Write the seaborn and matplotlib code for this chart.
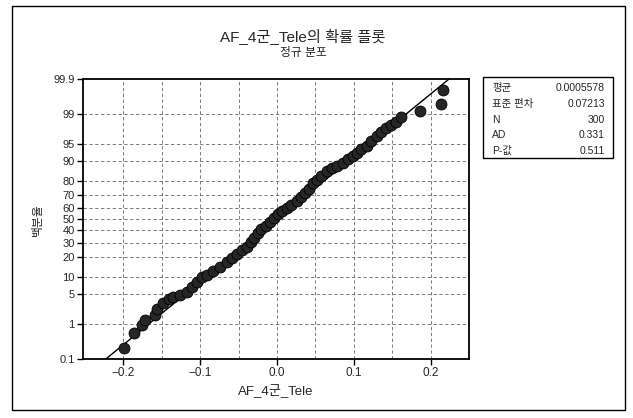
import numpy as np
import matplotlib
matplotlib.use('Agg')
import matplotlib.pyplot as plt
import matplotlib.patches as patches
import seaborn as sns
from statistics import NormalDist

# sorted sample values, with their plotted percentiles
sample_values = [
    -0.1983, -0.1853, -0.1749, -0.1714, -0.1584, -0.1555, -0.1477, -0.1399,
    -0.1347, -0.1260, -0.1173, -0.1108, -0.1043, -0.0978, -0.0913, -0.0827,
    -0.0740, -0.0653, -0.0584, -0.0519, -0.0455, -0.0390, -0.0338, -0.0299,
    -0.0253, -0.0208, -0.0149, -0.0091, -0.0039, 0.0013, 0.0065, 0.0126,
    0.0188, 0.0256, 0.0312, 0.0364, 0.0416, 0.0471, 0.0519, 0.0578,
    0.0645, 0.0708, 0.0779, 0.0861, 0.0922, 0.0981, 0.1035, 0.1097,
    0.1165, 0.1227, 0.1295, 0.1351, 0.1416, 0.1481, 0.1545, 0.1617,
    0.1857, 0.2130, 0.2152,
]
sample_percents = [
    0.228, 0.597, 0.946, 1.26, 1.67, 2.30, 3.19, 3.80,
    4.25, 4.58, 5.35, 6.65, 8.20, 9.99, 10.90, 12.63,
    14.41, 17.21, 19.55, 21.74, 24.42, 26.90, 30.26, 33.80,
    37.49, 40.87, 43.88, 47.09, 50.88, 54.38, 57.42, 59.99,
    62.51, 65.62, 68.97, 72.00, 74.89, 78.58, 80.76, 82.79,
    85.45, 86.90, 88.04, 89.38, 90.66, 91.88, 92.88, 93.82,
    94.65, 95.79, 96.65, 97.28, 97.73, 98.06, 98.38, 98.77,
    99.14, 99.43, 99.78,
]

mean_val = 0.0005578
std_val = 0.07213
line_percents = [0.1, 99.9]

x_ticks = [-0.2, -0.1, 0.0, 0.1, 0.2]
x_tick_labels = ['\u22120.2', '\u22120.1', '0.0', '0.1', '0.2']
x_grid = [-0.2, -0.15, -0.1, -0.05, 0.0, 0.05, 0.1, 0.15, 0.2]
pct_ticks = [0.1, 1, 5, 10, 20, 30, 40, 50, 60, 70, 80, 90, 95, 99, 99.9]
pct_labels = ['0.1', '1', '5', '10', '20', '30', '40', '50', '60', '70',
              '80', '90', '95', '99', '99.9']
pct_grid = [1, 5, 10, 20, 30, 40, 50, 60, 70, 80, 90, 95, 99]

stat_names = ['평균', '표준 편차', 'N', 'AD', 'P-값']
stat_values = ['0.0005578', '0.07213', '300', '0.331', '0.511']

title = 'AF_4군_Tele의 확률 플롯'
subtitle = '정규 분포'
x_label = 'AF_4군_Tele'
y_label = '백분율'

sns.set_style('white')
plt.rcParams['font.family'] = ['Liberation Sans', 'Noto Sans CJK KR', 'DejaVu Sans']
plt.rcParams['axes.unicode_minus'] = True

nd = NormalDist()


def pct_to_z(p):
    p = np.asarray(p, dtype=float)
    p = np.where(np.isfinite(p), np.clip(p, 1e-7, 100 - 1e-7), 50.0)
    return np.vectorize(lambda v: nd.inv_cdf(v / 100.0), otypes=[float])(p)


def z_to_pct(z):
    z = np.asarray(z, dtype=float)
    z = np.where(np.isfinite(z), z, 0.0)
    return np.vectorize(lambda v: nd.cdf(v) * 100.0, otypes=[float])(z)


fig = plt.figure(figsize=(6.33, 4.18), dpi=100)
ax = fig.add_axes([83 / 633, 1 - 359 / 418, 386 / 633, 280 / 418])
ax.set_yscale('function', functions=(pct_to_z, z_to_pct))

# grid
for gx in x_grid:
    ax.axvline(gx, color='#666666', lw=0.6, ls=(0, (4, 3)), zorder=1)
for gy in pct_grid:
    ax.axhline(gy, color='#666666', lw=0.6, ls=(0, (4, 3)), zorder=1)

# fitted normal line
line_x = [mean_val + std_val * nd.inv_cdf(p / 100.0) for p in line_percents]
sns.lineplot(x=line_x, y=line_percents, sort=False, estimator=None,
             color='black', lw=1.0, ax=ax, zorder=3)

sns.scatterplot(x=sample_values, y=sample_percents, s=62, color='#262626',
                edgecolor='black', linewidth=0.6, ax=ax, zorder=4)

ax.set_xlim(-0.252, 0.2494)
ax.set_ylim(0.1, 99.9)
ax.set_xticks(x_ticks)
ax.set_xticklabels(x_tick_labels, fontsize=8.5)
ax.set_yticks(pct_ticks)
ax.set_yticklabels(pct_labels, fontsize=8)
ax.minorticks_off()
ax.tick_params(axis='both', direction='out', length=4, width=1, color='black',
               left=True, bottom=True, pad=2)
for sp in ax.spines.values():
    sp.set_color('black')
    sp.set_linewidth(1.3)

ax.set_xlabel(x_label, fontsize=9.5, labelpad=3)
ax.set_ylabel('')
fig.text(38 / 633, 1 - 220 / 418, y_label, rotation=90, fontsize=8.5,
         ha='center', va='center')

fig.text(303 / 633, 1 - 37 / 418, title, fontsize=11, ha='center', va='center')
fig.text(303 / 633, 1 - 53 / 418, subtitle, fontsize=8.5, ha='center', va='center')

# statistics box
fig.patches.append(patches.Rectangle((483 / 633, 1 - 158 / 418), 130 / 633, 81 / 418,
                                     transform=fig.transFigure, fill=False,
                                     edgecolor='black', lw=1.0))
row_y = [88, 104, 120, 135.5, 151]
for name, val, ry in zip(stat_names, stat_values, row_y):
    fig.text(492 / 633, 1 - ry / 418, name, fontsize=7.5, ha='left', va='center')
    fig.text(605 / 633, 1 - ry / 418, val, fontsize=7.5, ha='right', va='center')

# outer frame
fig.patches.append(patches.Rectangle((12 / 633, 1 - 410 / 418), 613 / 633, 404 / 418,
                                     transform=fig.transFigure, fill=False,
                                     edgecolor='black', lw=1.0))

fig.savefig('out.png', dpi=100)
